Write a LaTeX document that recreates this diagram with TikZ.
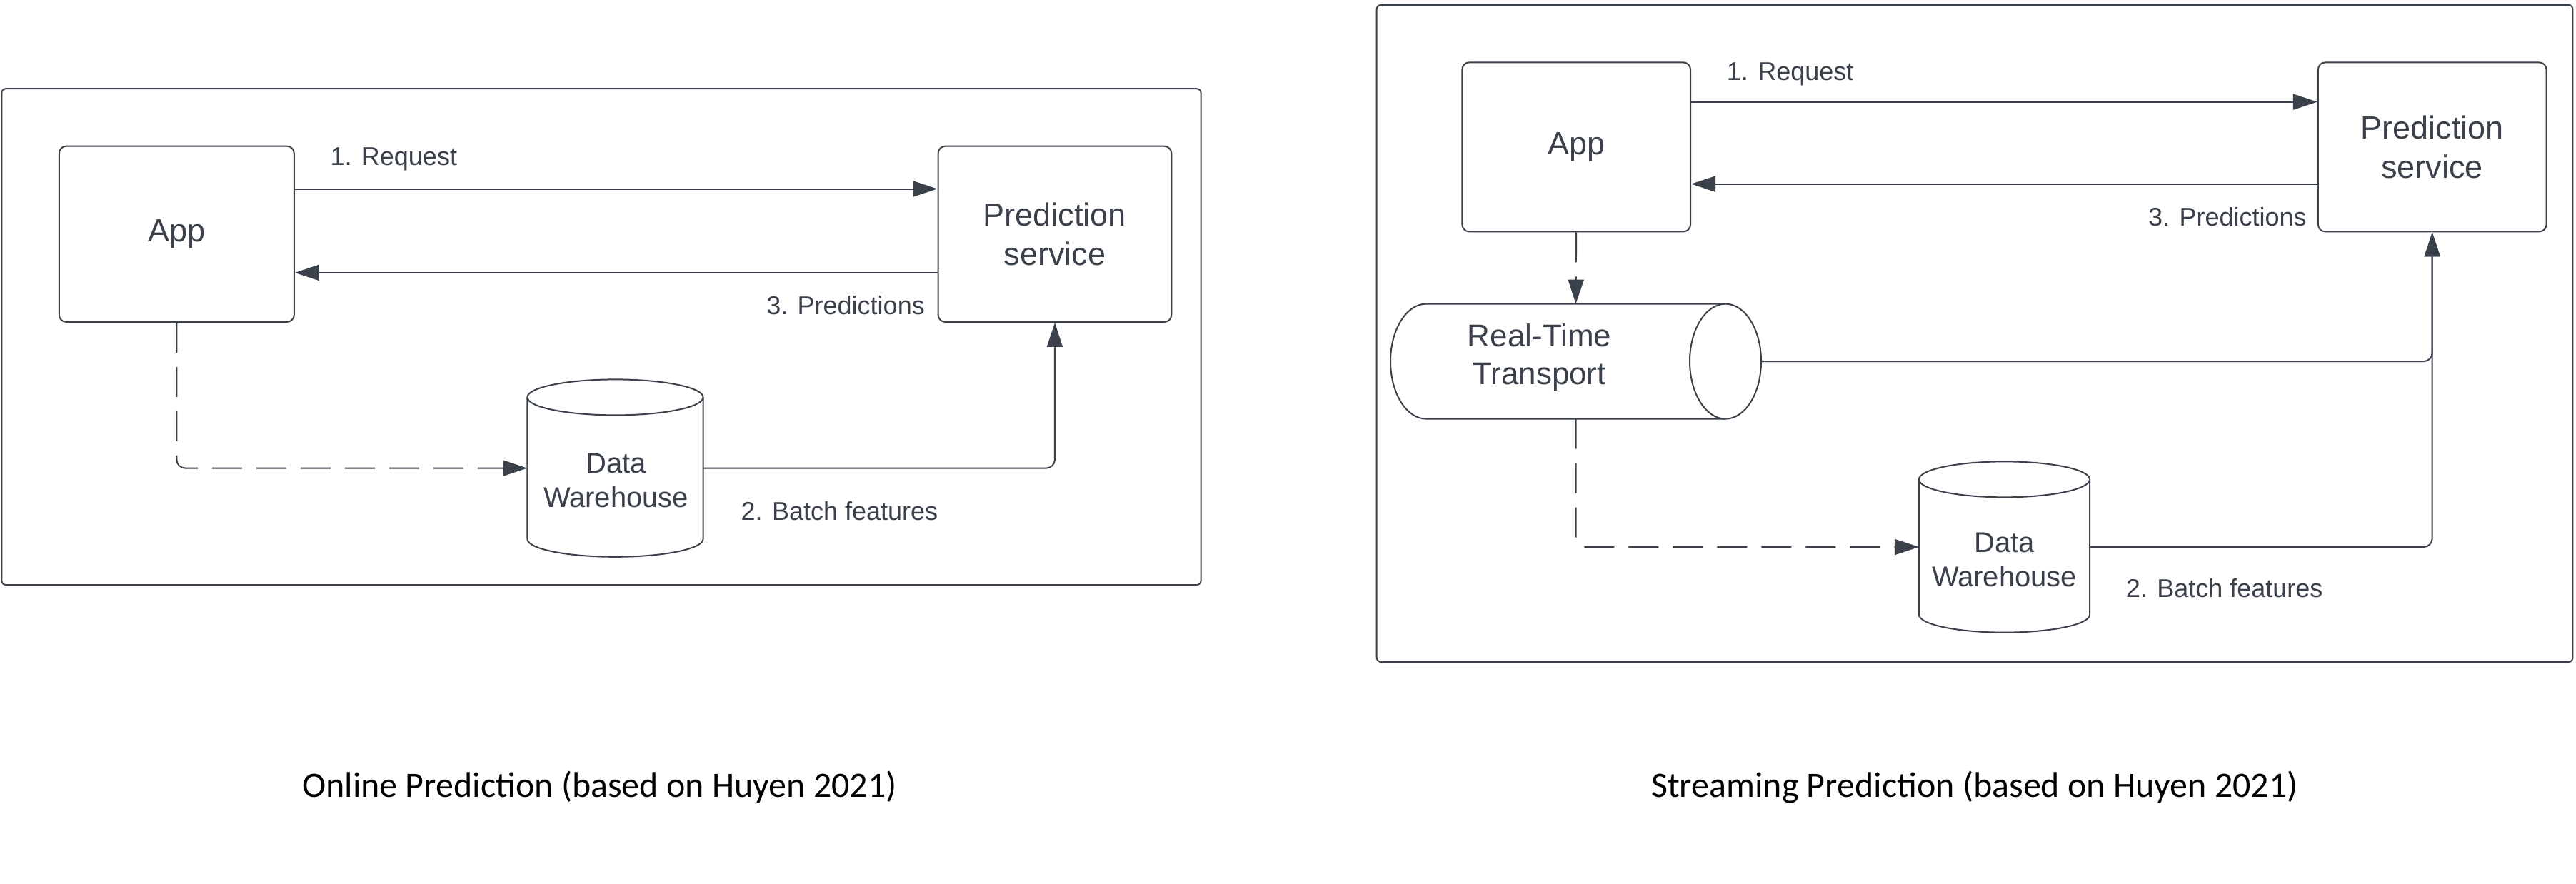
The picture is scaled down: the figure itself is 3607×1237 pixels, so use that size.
\documentclass[tikz,border=0pt]{standalone}
\usepackage{fontspec}
\setmainfont{Liberation Sans}
\newfontfamily\capfont{Carlito}
\usetikzlibrary{arrows.meta}
\definecolor{ink}{RGB}{58,65,74}
\begin{document}
\begin{tikzpicture}[x=1pt,y=1pt,
  box/.style={draw=ink, line width=2pt, rounded corners=10pt, text=ink, align=center,
    font=\fontsize{45}{55}\selectfont, inner sep=0pt},
  geo/.style={inner sep=0pt, outer sep=0pt, draw=none},
  cyl/.style={draw=ink, line width=2pt},
  cyltext/.style={text=ink, align=center, font=\fontsize{40}{48}\selectfont, inner sep=0pt},
  lbl/.style={text=ink, font=\fontsize{36}{43}\selectfont, inner sep=0pt},
  frame/.style={draw=ink, line width=2pt, rounded corners=6pt},
  conn/.style={draw=ink, line width=2pt, rounded corners=12pt, -{Triangle[length=34pt,width=22pt]}},
  dconn/.style={conn, dash pattern=on 42pt off 20pt},
  capt/.style={text=black, font=\capfont\fontsize{50}{60}\selectfont, inner sep=0pt}]
\useasboundingbox (0,0) rectangle (3607,-1237);

% ---------------- Left panel: Online prediction ----------------
\draw[frame] (2.3,-124.2) rectangle (1681.6,-819);
\node[box, minimum width=329pt, minimum height=246.2pt] (appL) at (247.3,-327.8) {App};
\node[box, minimum width=326.7pt, minimum height=246.2pt] (predL) at (1476.9,-327.8) {Prediction\\service};
\node[geo, minimum width=246.2pt, minimum height=248.4pt] (dwL) at (861.5,-655.6) {};
\draw[cyl] ([yshift=-25pt]dwL.north west) -- ([yshift=25pt]dwL.south west)
  arc[start angle=180, end angle=360, x radius=123.1pt, y radius=25pt]
  -- ([yshift=-25pt]dwL.north east)
  arc[start angle=0, end angle=180, x radius=123.1pt, y radius=25pt] -- cycle;
\draw[cyl] ([yshift=-25pt]dwL.north west) arc[start angle=180, end angle=360, x radius=123.1pt, y radius=25pt];
\node[cyltext] (dwLtext) at (862.6,-673) {Data\\Warehouse};

\draw[conn] ([yshift=63.3pt]appL.east) -- ([yshift=63.3pt]predL.west);
\draw[conn] ([yshift=-54.1pt]predL.west) -- ([yshift=-54.1pt]appL.east);
\draw[dconn] (appL.south) |- (dwL.west);
\draw[conn] (dwL.east) -| (predL.south);

\node[lbl, anchor=west] (reqL) at (462.4,-223) {1. Request};
\node[lbl, anchor=east] (predtL) at (1295,-428) {3. Predictions};
\node[lbl, anchor=west] (batchL) at (1037.5,-715.4) {2. Batch features};

\node[capt] (captL) at (839.6,-1102) {Online Prediction (based on Huyen 2021)};

% ---------------- Right panel: Streaming prediction ----------------
\draw[frame] (1927.7,-6.9) rectangle (3602.4,-927);
\node[box, minimum width=319.7pt, minimum height=237pt] (appR) at (2207.2,-205.9) {App};
\node[box, minimum width=319.7pt, minimum height=237pt] (predR) at (3405.7,-205.9) {Prediction\\service};

% Real-Time Transport (horizontal cylinder)
\node[geo, minimum width=519pt, minimum height=161pt] (rtt) at (2206.5,-506.1) {};
\draw[cyl] ([xshift=50pt]rtt.north west) -- ([xshift=-50pt]rtt.north east)
  arc[start angle=90, end angle=-90, x radius=50pt, y radius=80.5pt]
  -- ([xshift=50pt]rtt.south west)
  arc[start angle=270, end angle=90, x radius=50pt, y radius=80.5pt] -- cycle;
\draw[cyl] ([xshift=-50pt]rtt.north east) arc[start angle=90, end angle=270, x radius=50pt, y radius=80.5pt];
\node[text=ink, align=center, font=\fontsize{44}{53}\selectfont, inner sep=0pt] (rtttext) at (2155.5,-500.5) {Real-Time\\Transport};

% Data Warehouse (vertical cylinder)
\node[geo, minimum width=239.2pt, minimum height=239.3pt] (dwR) at (2806.5,-766) {};
\draw[cyl] ([yshift=-25pt]dwR.north west) -- ([yshift=25pt]dwR.south west)
  arc[start angle=180, end angle=360, x radius=119.6pt, y radius=25pt]
  -- ([yshift=-25pt]dwR.north east)
  arc[start angle=0, end angle=180, x radius=119.6pt, y radius=25pt] -- cycle;
\draw[cyl] ([yshift=-25pt]dwR.north west) arc[start angle=180, end angle=360, x radius=119.6pt, y radius=25pt];
\node[cyltext] (dwRtext) at (2806.5,-784) {Data\\Warehouse};

\draw[conn] ([yshift=63.3pt]appR.east) -- ([yshift=63.3pt]predR.west);
\draw[conn] ([yshift=-51.7pt]predR.west) -- ([yshift=-51.7pt]appR.east);
\draw[dconn] (appR.south) -- (rtt.north);
\draw[dconn] (rtt.south) |- (dwR.west);
\draw[conn] (rtt.east) -| (predR.south);
\draw[conn] (dwR.east) -| (predR.south);

\node[lbl, anchor=west] (reqR) at (2417.7,-103.5) {1. Request};
\node[lbl, anchor=east] (predtR) at (3229.8,-303.7) {3. Predictions};
\node[lbl, anchor=west] (batchR) at (2976.7,-823.5) {2. Batch features};

\node[capt] (captR) at (2765,-1102) {Streaming Prediction (based on Huyen 2021)};
\end{tikzpicture}
\end{document}
